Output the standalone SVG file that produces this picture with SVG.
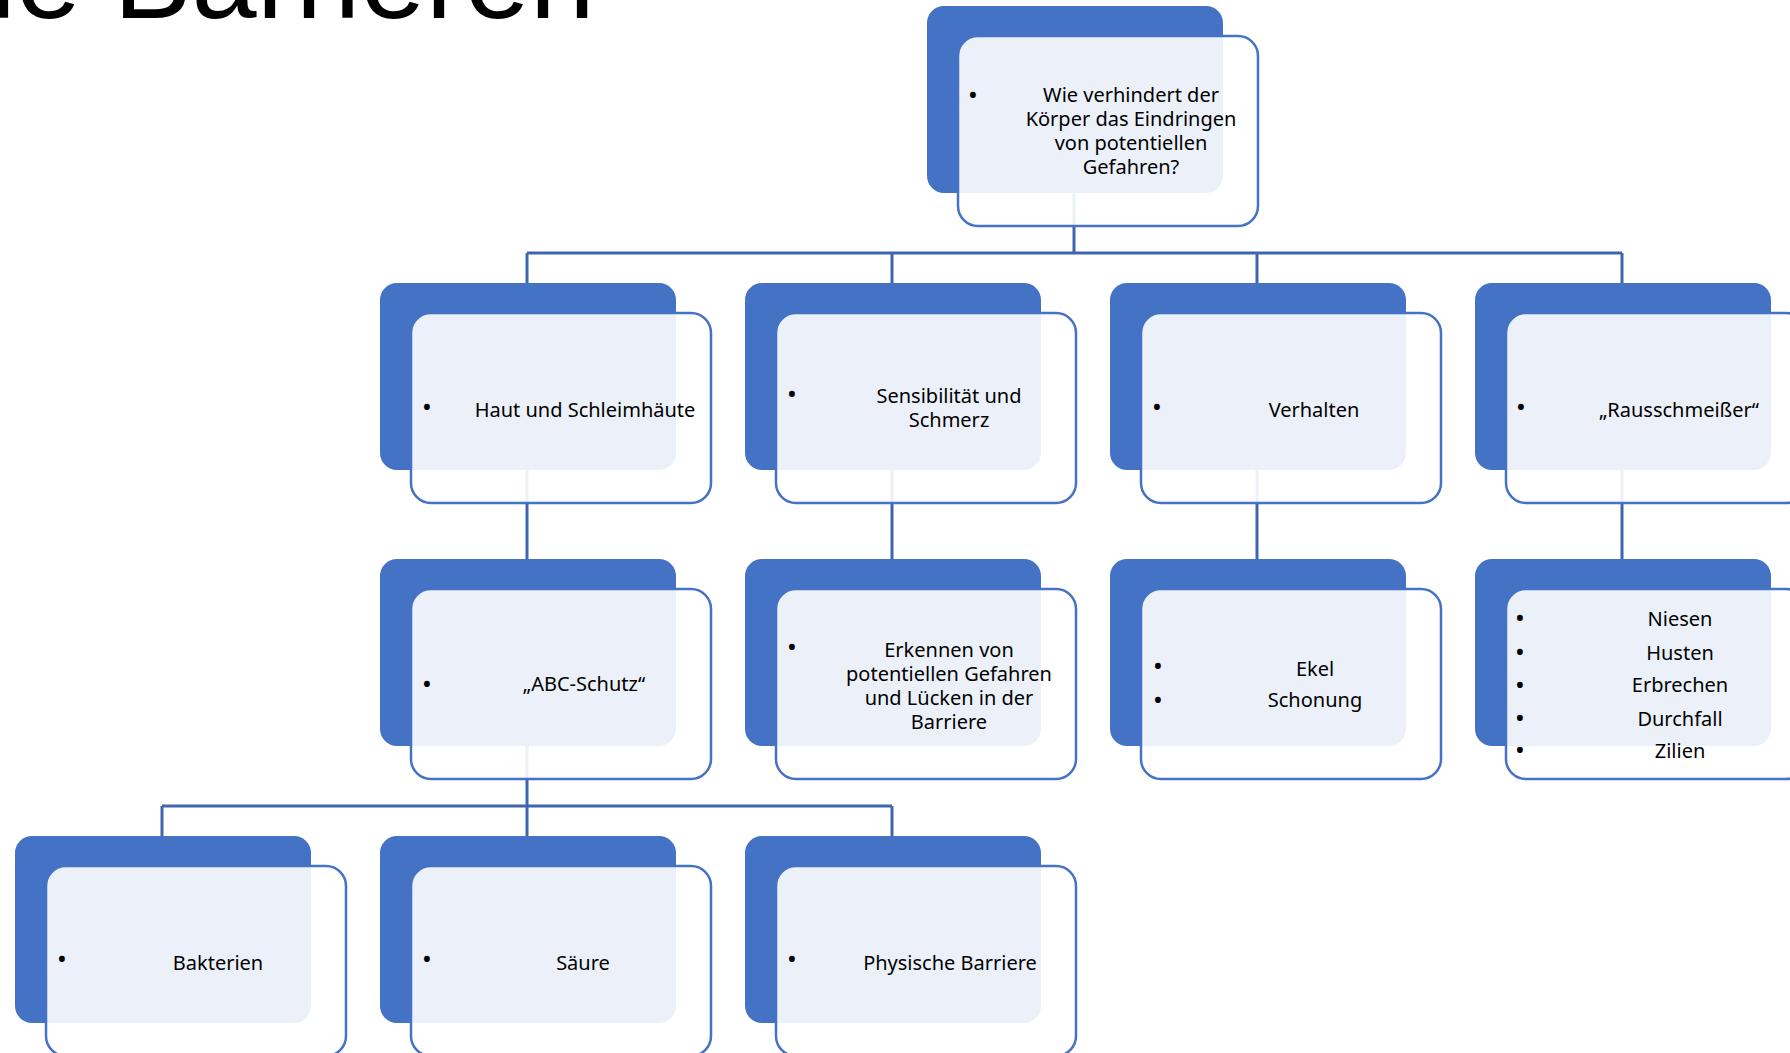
<svg xmlns="http://www.w3.org/2000/svg" width="1790" height="1053" viewBox="0 0 1790 1053">
<style>
.back{fill:#4472C4;}
.front{fill:#FFFFFF;fill-opacity:0.9;stroke:#4472C4;stroke-width:2.5;}
.conn{fill:none;stroke:#3F65AE;stroke-width:3;}
.t{font-family:"Noto Sans","Open Sans","DejaVu Sans",sans-serif;font-size:20px;fill:#000;text-anchor:middle;}
.b{font-family:"Noto Sans","DejaVu Sans",sans-serif;font-size:26px;fill:#000;text-anchor:middle;}
.title{font-family:"Liberation Sans",Arial,sans-serif;font-size:117px;fill:#000;}
</style>
<rect width="1790" height="1053" fill="#FFFFFF"/>
<text class="title" x="-10" y="18">ie Barrieren</text>

<g id="connectors">
  <path class="conn" d="M1074,193 V253 M527,253 H1622 M527,253 V283 M892,253 V283 M1257,253 V283 M1622,253 V283"/>
  <path class="conn" d="M527,470 V559 M892,470 V559 M1257,470 V559 M1622,470 V559"/>
  <path class="conn" d="M527,746 V806 M162,806 H892 M162,806 V836 M527,806 V836 M892,806 V836"/>
</g>

<g id="node-root">
  <rect class="back" x="927" y="6" width="296" height="187" rx="17"/>
  <rect class="front" x="958" y="36" width="300" height="190" rx="20"/>
  <text class="b" x="973" y="104">•</text>
  <text class="t" x="1131" y="102">Wie verhindert der</text>
  <text class="t" x="1131" y="126">Körper das Eindringen</text>
  <text class="t" x="1131" y="150">von potentiellen</text>
  <text class="t" x="1131" y="174">Gefahren?</text>
</g>

<g id="node-haut">
  <rect class="back" x="380" y="283" width="296" height="187" rx="17"/>
  <rect class="front" x="411" y="313" width="300" height="190" rx="20"/>
  <text class="b" x="427" y="416">•</text>
  <text class="t" x="585" y="417">Haut und Schleimhäute</text>
</g>

<g id="node-sensibilitaet">
  <rect class="back" x="745" y="283" width="296" height="187" rx="17"/>
  <rect class="front" x="776" y="313" width="300" height="190" rx="20"/>
  <text class="b" x="792" y="403">•</text>
  <text class="t" x="949" y="403">Sensibilität und</text>
  <text class="t" x="949" y="427">Schmerz</text>
</g>

<g id="node-verhalten">
  <rect class="back" x="1110" y="283" width="296" height="187" rx="17"/>
  <rect class="front" x="1141" y="313" width="300" height="190" rx="20"/>
  <text class="b" x="1157" y="416">•</text>
  <text class="t" x="1314" y="417">Verhalten</text>
</g>

<g id="node-rausschmeisser">
  <rect class="back" x="1475" y="283" width="296" height="187" rx="17"/>
  <rect class="front" x="1506" y="313" width="300" height="190" rx="20"/>
  <text class="b" x="1521" y="416">•</text>
  <text class="t" x="1679" y="417">„Rausschmeißer“</text>
</g>

<g id="node-abc">
  <rect class="back" x="380" y="559" width="296" height="187" rx="17"/>
  <rect class="front" x="411" y="589" width="300" height="190" rx="20"/>
  <text class="b" x="427" y="693">•</text>
  <text class="t" x="584" y="691">„ABC-Schutz“</text>
</g>

<g id="node-erkennen">
  <rect class="back" x="745" y="559" width="296" height="187" rx="17"/>
  <rect class="front" x="776" y="589" width="300" height="190" rx="20"/>
  <text class="b" x="792" y="656">•</text>
  <text class="t" x="949" y="657">Erkennen von</text>
  <text class="t" x="949" y="681">potentiellen Gefahren</text>
  <text class="t" x="949" y="705">und Lücken in der</text>
  <text class="t" x="949" y="729">Barriere</text>
</g>

<g id="node-ekel">
  <rect class="back" x="1110" y="559" width="296" height="187" rx="17"/>
  <rect class="front" x="1141" y="589" width="300" height="190" rx="20"/>
  <text class="b" x="1158" y="675">•</text>
  <text class="t" x="1315" y="676">Ekel</text>
  <text class="b" x="1158" y="709">•</text>
  <text class="t" x="1315" y="707">Schonung</text>
</g>

<g id="node-reflexe">
  <rect class="back" x="1475" y="559" width="296" height="187" rx="17"/>
  <rect class="front" x="1506" y="589" width="300" height="190" rx="20"/>
  <text class="b" x="1520" y="627">•</text>
  <text class="t" x="1680" y="626">Niesen</text>
  <text class="b" x="1520" y="661">•</text>
  <text class="t" x="1680" y="660">Husten</text>
  <text class="b" x="1520" y="694">•</text>
  <text class="t" x="1680" y="692">Erbrechen</text>
  <text class="b" x="1520" y="727">•</text>
  <text class="t" x="1680" y="726">Durchfall</text>
  <text class="b" x="1520" y="759">•</text>
  <text class="t" x="1680" y="758">Zilien</text>
</g>

<g id="node-bakterien">
  <rect class="back" x="15" y="836" width="296" height="187" rx="17"/>
  <rect class="front" x="46" y="866" width="300" height="190" rx="20"/>
  <text class="b" x="62" y="968">•</text>
  <text class="t" x="218" y="970">Bakterien</text>
</g>

<g id="node-saeure">
  <rect class="back" x="380" y="836" width="296" height="187" rx="17"/>
  <rect class="front" x="411" y="866" width="300" height="190" rx="20"/>
  <text class="b" x="427" y="968">•</text>
  <text class="t" x="583" y="970">Säure</text>
</g>

<g id="node-physisch">
  <rect class="back" x="745" y="836" width="296" height="187" rx="17"/>
  <rect class="front" x="776" y="866" width="300" height="190" rx="20"/>
  <text class="b" x="792" y="968">•</text>
  <text class="t" x="950" y="970">Physische Barriere</text>
</g>
</svg>
